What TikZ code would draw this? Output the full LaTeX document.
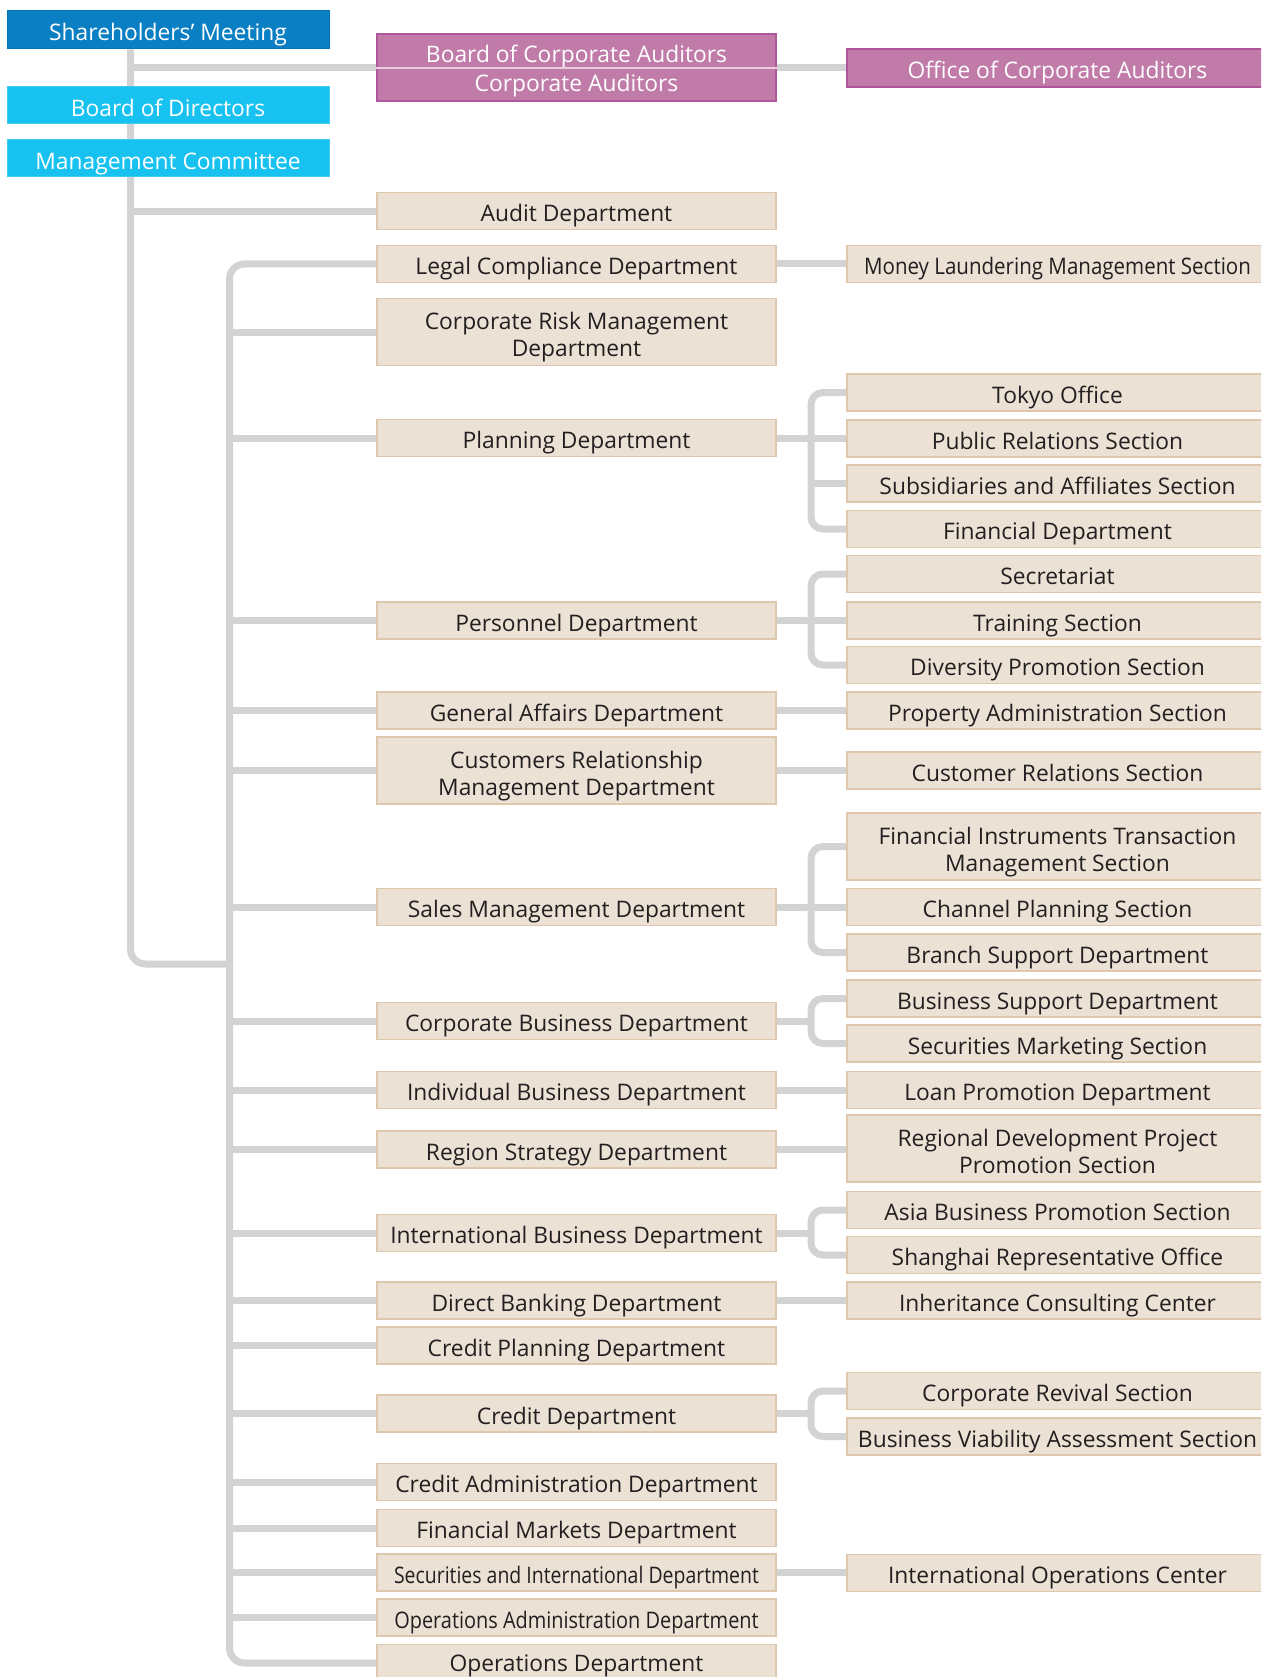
\documentclass[tikz,border=0pt]{standalone}
\usepackage{fontspec}
\setmainfont{Open Sans}
\newfontfamily\narrowA[FakeStretch=0.853]{Open Sans}
\newfontfamily\narrowB[FakeStretch=0.874]{Open Sans}
\newfontfamily\narrowC[FakeStretch=0.90]{Open Sans}
\pgfdeclarelayer{links}
\pgfsetlayers{links,main}

\definecolor{ink}{HTML}{231F20}
\definecolor{topblue}{HTML}{0A7FC4}
\definecolor{topblueedge}{HTML}{0874B4}
\definecolor{boardblue}{HTML}{17C1F0}
\definecolor{boardblueedge}{HTML}{3FCBF2}
\definecolor{auditpink}{HTML}{C07BA9}
\definecolor{auditpinkedge}{HTML}{B0569A}
\definecolor{auditsplit}{HTML}{EACDE0}
\definecolor{unitfill}{HTML}{EBE1D5}
\definecolor{unitedge}{HTML}{DFC7AE}
\definecolor{linkgray}{HTML}{D1D3D4}

% two stacked lines inside one box, baselines placed like the single-line boxes
\newcommand{\twolines}[2]{\rule{0pt}{28.1pt}#1\\#2\rule[-6pt]{0pt}{6pt}}

\begin{document}
\begin{tikzpicture}[x=1pt,y=-1pt,
  unit/.style={draw=unitedge, fill=unitfill, line width=1.2pt, inner sep=0pt,
    text=ink, font=\fontsize{22.8}{27.1}\selectfont,
    minimum height=37pt, text height=23pt, text depth=1.6pt},
  unit2/.style={unit, minimum height=67pt, align=center, text height=, text depth=},
  midcol/.style={minimum width=399pt},
  rightcol/.style={minimum width=421pt},
  headbox/.style={inner sep=0pt, text=white, minimum width=322pt,
    font=\fontsize{22.8}{28}\selectfont, text height=23.5pt, text depth=1.6pt},
  top/.style={headbox, draw=topblueedge, fill=topblue, line width=1pt},
  board/.style={headbox, draw=boardblueedge, fill=boardblue, line width=1pt},
  pinkbox/.style={draw=auditpinkedge, fill=auditpink, line width=1.2pt, inner sep=0pt,
    text=white, font=\fontsize{22.8}{29}\selectfont},
  link/.style={draw=linkgray, line width=7pt},
]
\useasboundingbox (0,0) rectangle (1261,1677);
\clip (0,0) rectangle (1261,1677);

% ---- governing bodies
\node[top, minimum height=38pt] (sm) at (168,30) {Shareholders’ Meeting};
\node[board, minimum height=37pt] (bod) at (168,105.5) {Board of Directors};
\node[board, minimum height=37pt] (mc) at (168,158.5) {Management Committee};

\node[pinkbox, midcol, minimum height=67pt, align=center] (bca) at (576.5,67.5)
  {\rule{0pt}{26pt}Board of Corporate Auditors\\Corporate Auditors\rule[-6pt]{0pt}{6pt}};
\draw[auditsplit, line width=2pt] (bca.west |- 0,68) -- (bca.east |- 0,68);
\node[pinkbox, rightcol, minimum height=38pt, text height=22pt, text depth=1.6pt] (oca) at (1057.5,68)
  {Office of Corporate Auditors};

% ---- departments
\node[unit, midcol] (audit) at (576.5,211.3) {Audit Department};
\node[unit, midcol] (legal) at (576.5,264) {Legal Compliance Department};
\node[unit2, midcol] (crm) at (576.5,332) {\twolines{Corporate Risk Management}{Department}};
\node[unit, midcol] (plan) at (576.5,438) {Planning Department};
\node[unit, midcol] (pers) at (576.5,620.5) {Personnel Department};
\node[unit, midcol] (ga) at (576.5,710.5) {General Affairs Department};
\node[unit2, midcol] (crmd) at (576.5,770.5) {\twolines{Customers Relationship}{Management Department}};
\node[unit, midcol] (sales) at (576.5,907) {Sales Management Department};
\node[unit, midcol] (corp) at (576.5,1021) {Corporate Business Department};
\node[unit, midcol] (indiv) at (576.5,1090) {Individual Business Department};
\node[unit, midcol] (region) at (576.5,1149.5) {Region Strategy Department};
\node[unit, midcol] (intl) at (576.5,1233) {International Business Department};
\node[unit, midcol] (direct) at (576.5,1300.5) {Direct Banking Department};
\node[unit, midcol] (cplan) at (576.5,1345.5) {Credit Planning Department};
\node[unit, midcol] (credit) at (576.5,1413.5) {Credit Department};
\node[unit, midcol] (cadmin) at (576.5,1482) {Credit Administration Department};
\node[unit, midcol] (fm) at (576.5,1528) {Financial Markets Department};
\node[unit, midcol] (sec) at (576.5,1572.5) {\narrowA Securities and International Department};
\node[unit, midcol] (opsadmin) at (576.5,1617.5) {\narrowB Operations Administration Department};
\node[unit, midcol, text height=19pt] (ops) at (576.5,1663) {Operations Department};

% ---- sections and offices
\node[unit, rightcol] (ml) at (1057.5,264) {\narrowC Money Laundering Management Section};
\node[unit, rightcol] (tokyo) at (1057.5,392.5) {Tokyo Office};
\node[unit, rightcol] (pr) at (1057.5,438.5) {Public Relations Section};
\node[unit, rightcol] (subs) at (1057.5,483.5) {Subsidiaries and Affiliates Section};
\node[unit, rightcol] (fin) at (1057.5,529) {Financial Department};
\node[unit, rightcol] (secr) at (1057.5,574) {Secretariat};
\node[unit, rightcol] (train) at (1057.5,620.5) {Training Section};
\node[unit, rightcol] (div) at (1057.5,665) {Diversity Promotion Section};
\node[unit, rightcol] (prop) at (1057.5,710.5) {Property Administration Section};
\node[unit, rightcol] (cr) at (1057.5,770.5) {Customer Relations Section};
\node[unit2, rightcol] (fitms) at (1057.5,846.5) {\twolines{Financial Instruments Transaction}{Management Section}};
\node[unit, rightcol] (chan) at (1057.5,907) {Channel Planning Section};
\node[unit, rightcol] (branch) at (1057.5,952.5) {Branch Support Department};
\node[unit, rightcol] (bs) at (1057.5,998.5) {Business Support Department};
\node[unit, rightcol] (smk) at (1057.5,1043.5) {Securities Marketing Section};
\node[unit, rightcol] (loan) at (1057.5,1090) {Loan Promotion Department};
\node[unit2, rightcol] (rd) at (1057.5,1148.5) {\twolines{Regional Development Project}{Promotion Section}};
\node[unit, rightcol] (asia) at (1057.5,1210) {Asia Business Promotion Section};
\node[unit, rightcol] (shanghai) at (1057.5,1255) {Shanghai Representative Office};
\node[unit, rightcol] (inh) at (1057.5,1300.5) {Inheritance Consulting Center};
\node[unit, rightcol] (revival) at (1057.5,1391) {Corporate Revival Section};
\node[unit, rightcol] (bva) at (1057.5,1436.5) {Business Viability Assessment Section};
\node[unit, rightcol] (iops) at (1057.5,1573) {International Operations Center};

% ---- connector rails
\coordinate (railA) at (130.5,0);
\coordinate (railB) at (229.5,0);
\coordinate (railC) at (811,0);
\coordinate (railjoin) at (229.5,964);

\begin{pgfonlayer}{links}
  \draw[link, rounded corners=15pt] (sm.south -| railA) |- (railjoin);
  \draw[link] (bca.west -| railA) -- (bca.west);
  \draw[link] (audit.west -| railA) -- (audit.west);
  \draw[link] (bca.east) -- (bca.east -| oca.west);
  \draw[link, rounded corners=15pt] (legal.west) -| (ops.west -| railB) -- (ops.west);
  \foreach \n in {crm,plan,pers,ga,crmd,sales,corp,indiv,region,intl,direct,cplan,credit,cadmin,fm,sec,opsadmin}
    \draw[link] (\n.west -| railB) -- (\n.west);
  \foreach \a/\b in {legal/ml,ga/prop,crmd/cr,indiv/loan,region/rd,direct/inh,sec/iops}
    \draw[link] (\a.east) -- (\a.east -| \b.west);
  \foreach \p/\f/\l in {plan/tokyo/fin,pers/secr/div,sales/fitms/branch,corp/bs/smk,intl/asia/shanghai,credit/revival/bva}{
    \draw[link] (\p.east) -- (\p.east -| railC);
    \draw[link, rounded corners=12pt] (\f.west) -| (\l.west -| railC) -- (\l.west);
  }
  \foreach \n in {pr,subs,train,chan}
    \draw[link] (\n.west -| railC) -- (\n.west);
\end{pgfonlayer}
\end{tikzpicture}
\end{document}
